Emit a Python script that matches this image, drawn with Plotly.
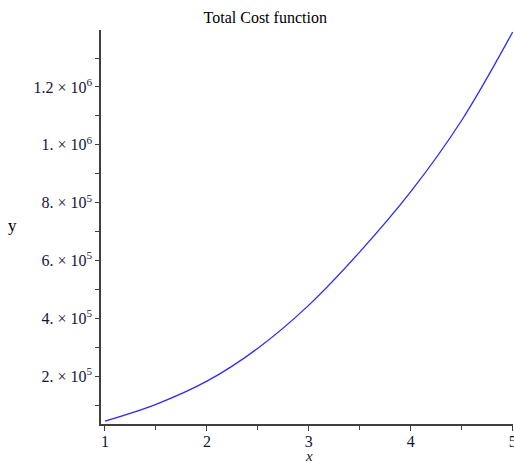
import plotly.graph_objects as go

# Data (Total Cost function)
x_vals = [1.0, 1.5, 2.0, 2.5, 3.0, 3.5, 4.0, 4.5, 5.0]
y_vals = [45000, 103000, 183000, 297000, 446000, 630000, 838000, 1085000, 1390000]

y_tick_vals = [200000, 400000, 600000, 800000, 1000000, 1200000]
y_tick_text = ["2. × 10<sup>5</sup>", "4. × 10<sup>5</sup>", "6. × 10<sup>5</sup>",
               "8. × 10<sup>5</sup>", "1. × 10<sup>6</sup>", "1.2 × 10<sup>6</sup>"]
y_minor_vals = [100000, 300000, 500000, 700000, 900000, 1100000, 1300000]
x_tick_vals = [1, 2, 3, 4, 5]
x_tick_text = ["1", "2", "3", "4", "5"]
x_minor_vals = [1.5, 2.5, 3.5, 4.5]

FONT = "Liberation Serif"
TXT = "#14143a"
AX = "#404040"

fig = go.Figure()
fig.add_trace(go.Scatter(x=x_vals, y=y_vals, mode="lines",
                         line=dict(color="#2a2aff", width=1.3, shape="spline"),
                         showlegend=False, hoverinfo="skip"))

fig.update_layout(
    width=514, height=463,
    margin=dict(l=101, r=1, t=30, b=39, autoexpand=False),
    paper_bgcolor="white", plot_bgcolor="white",
    font=dict(family=FONT, size=16, color=TXT),
    title=dict(text="Total Cost function", x=0.516, xanchor="center",
               y=0.963, yanchor="middle", automargin=False,
               font=dict(family=FONT, size=16, color="black")),
    xaxis=dict(range=[0.961, 5.003], showgrid=False, zeroline=False, automargin=False,
               showline=True, linecolor=AX, linewidth=1.5,
               tickmode="array", tickvals=x_tick_vals, ticktext=x_tick_text,
               ticks="outside", ticklen=5, tickwidth=1.2, tickcolor=AX,
               ticklabelstandoff=-3, ticklabeloverflow="allow",
               tickfont=dict(family=FONT, size=16, color=TXT),
               minor=dict(tickmode="array", tickvals=x_minor_vals, ticks="outside",
                          ticklen=4, tickwidth=1.2, tickcolor=AX, showgrid=False)),
    yaxis=dict(range=[35000, 1397000], showgrid=False, zeroline=False, automargin=False,
               showline=True, linecolor=AX, linewidth=1.5,
               tickmode="array", tickvals=y_tick_vals, ticktext=y_tick_text,
               ticks="outside", ticklen=4, tickwidth=1.2, tickcolor=AX,
               tickfont=dict(family=FONT, size=16, color=TXT),
               minor=dict(tickmode="array", tickvals=y_minor_vals, ticks="outside",
                          ticklen=4, tickwidth=1.2, tickcolor=AX, showgrid=False)),
    annotations=[
        dict(text="y", xref="paper", yref="paper", x=-0.216, y=0.503,
             xanchor="center", yanchor="middle", showarrow=False,
             font=dict(family=FONT, size=17, color="black")),
        dict(text="<i>x</i>", xref="paper", yref="paper", x=0.505, y=-0.082,
             xanchor="center", yanchor="middle", showarrow=False,
             font=dict(family=FONT, size=15, color=TXT)),
    ],
)

fig.write_html("out.html", config={"displayModeBar": False},
               post_script="document.body.style.margin='0';document.body.style.overflow='hidden';")
